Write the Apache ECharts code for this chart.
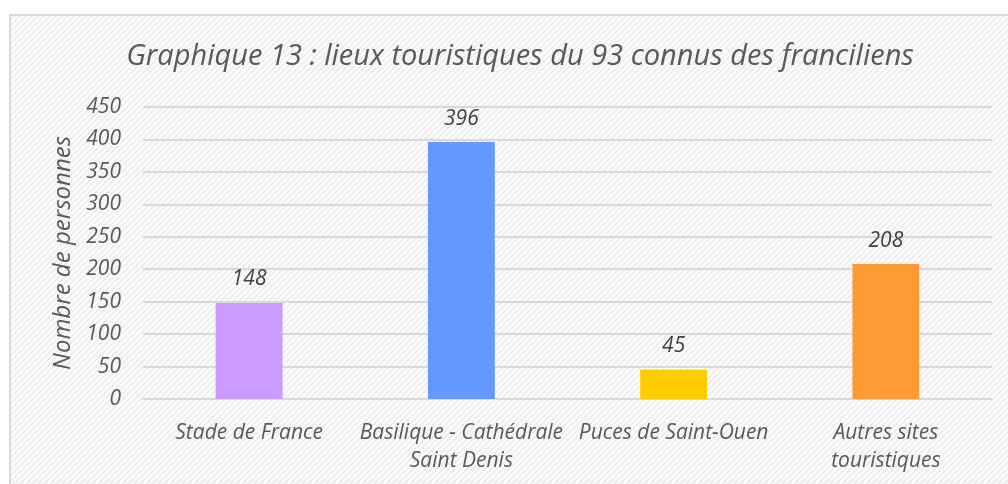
<!DOCTYPE html>
<html>
<head>
<meta charset="utf-8">
<script src="https://cdn.jsdelivr.net/npm/echarts@6/dist/echarts.min.js"></script>
<style>
  html, body { margin: 0; padding: 0; background: #fff; }
  #main { width: 1008px; height: 484px; }
</style>
</head>
<body>
<div id="main"></div>
<script>
// données
var categories = ["Stade de France", "Basilique - Cathédrale\nSaint Denis", "Puces de Saint-Ouen", "Autres sites\ntouristiques"];
var values = [148, 396, 45, 208];
var barColors = ["#CC99FF", "#6699FF", "#FFCC00", "#FF9933"];

var textFont = "'Open Sans', 'Noto Sans', sans-serif";

// motif hachuré du fond
var patternCanvas = document.createElement("canvas");
patternCanvas.width = 6;
patternCanvas.height = 6;
var pctx = patternCanvas.getContext("2d");
pctx.fillStyle = "#fbfbfb";
pctx.fillRect(0, 0, 6, 6);
pctx.strokeStyle = "#ececec";
pctx.lineWidth = 1.6;
pctx.beginPath();
pctx.moveTo(-1, 7); pctx.lineTo(7, -1);
pctx.moveTo(-4, 4); pctx.lineTo(4, -4);
pctx.moveTo(2, 10); pctx.lineTo(10, 2);
pctx.stroke();

var myChart = echarts.init(document.getElementById("main"));

var option = {
    backgroundColor: "#ffffff",
    animation: false,
    graphic: [{
        type: "rect",
        z: -10,
        silent: true,
        shape: { x: 10, y: 15, width: 1010, height: 480 },
        style: {
            fill: { image: patternCanvas, repeat: "repeat" },
            stroke: "#d9d9d9",
            lineWidth: 2
        }
    }],
    title: {
        text: "Graphique 13 : lieux touristiques du 93 connus des franciliens",
        left: 515,
        textAlign: "center",
        top: 37,
        textStyle: {
            fontFamily: textFont,
            fontStyle: "italic",
            fontWeight: "normal",
            fontSize: 29,
            color: "#595959"
        }
    },
    grid: {
        left: 143,
        right: 16,
        top: 107,
        bottom: 85
    },
    xAxis: {
        type: "category",
        data: categories,
        axisLine: { show: true, lineStyle: { color: "#d9d9d9", width: 2 } },
        axisTick: { show: false },
        axisLabel: {
            interval: 0,
            margin: 20,
            lineHeight: 28,
            fontFamily: textFont,
            fontStyle: "italic",
            fontSize: 21,
            color: "#595959"
        }
    },
    yAxis: {
        type: "value",
        min: 0,
        max: 450,
        interval: 50,
        name: "Nombre de personnes",
        nameLocation: "middle",
        nameGap: 68,
        nameTextStyle: {
            fontFamily: textFont,
            fontStyle: "italic",
            fontSize: 24,
            color: "#595959"
        },
        axisLine: { show: false },
        axisTick: { show: false },
        splitLine: { lineStyle: { color: "#d9d9d9", width: 2 } },
        axisLabel: {
            margin: 22,
            fontFamily: textFont,
            fontStyle: "italic",
            fontSize: 21,
            color: "#595959"
        }
    },
    series: [{
        type: "bar",
        barWidth: "31.5%",
        data: values.map(function (v, i) {
            return { value: v, itemStyle: { color: barColors[i] } };
        }),
        label: {
            show: true,
            position: "top",
            distance: 13,
            fontFamily: textFont,
            fontStyle: "italic",
            fontSize: 21,
            color: "#404040"
        }
    }]
};

myChart.setOption(option);
</script>
</body>
</html>
